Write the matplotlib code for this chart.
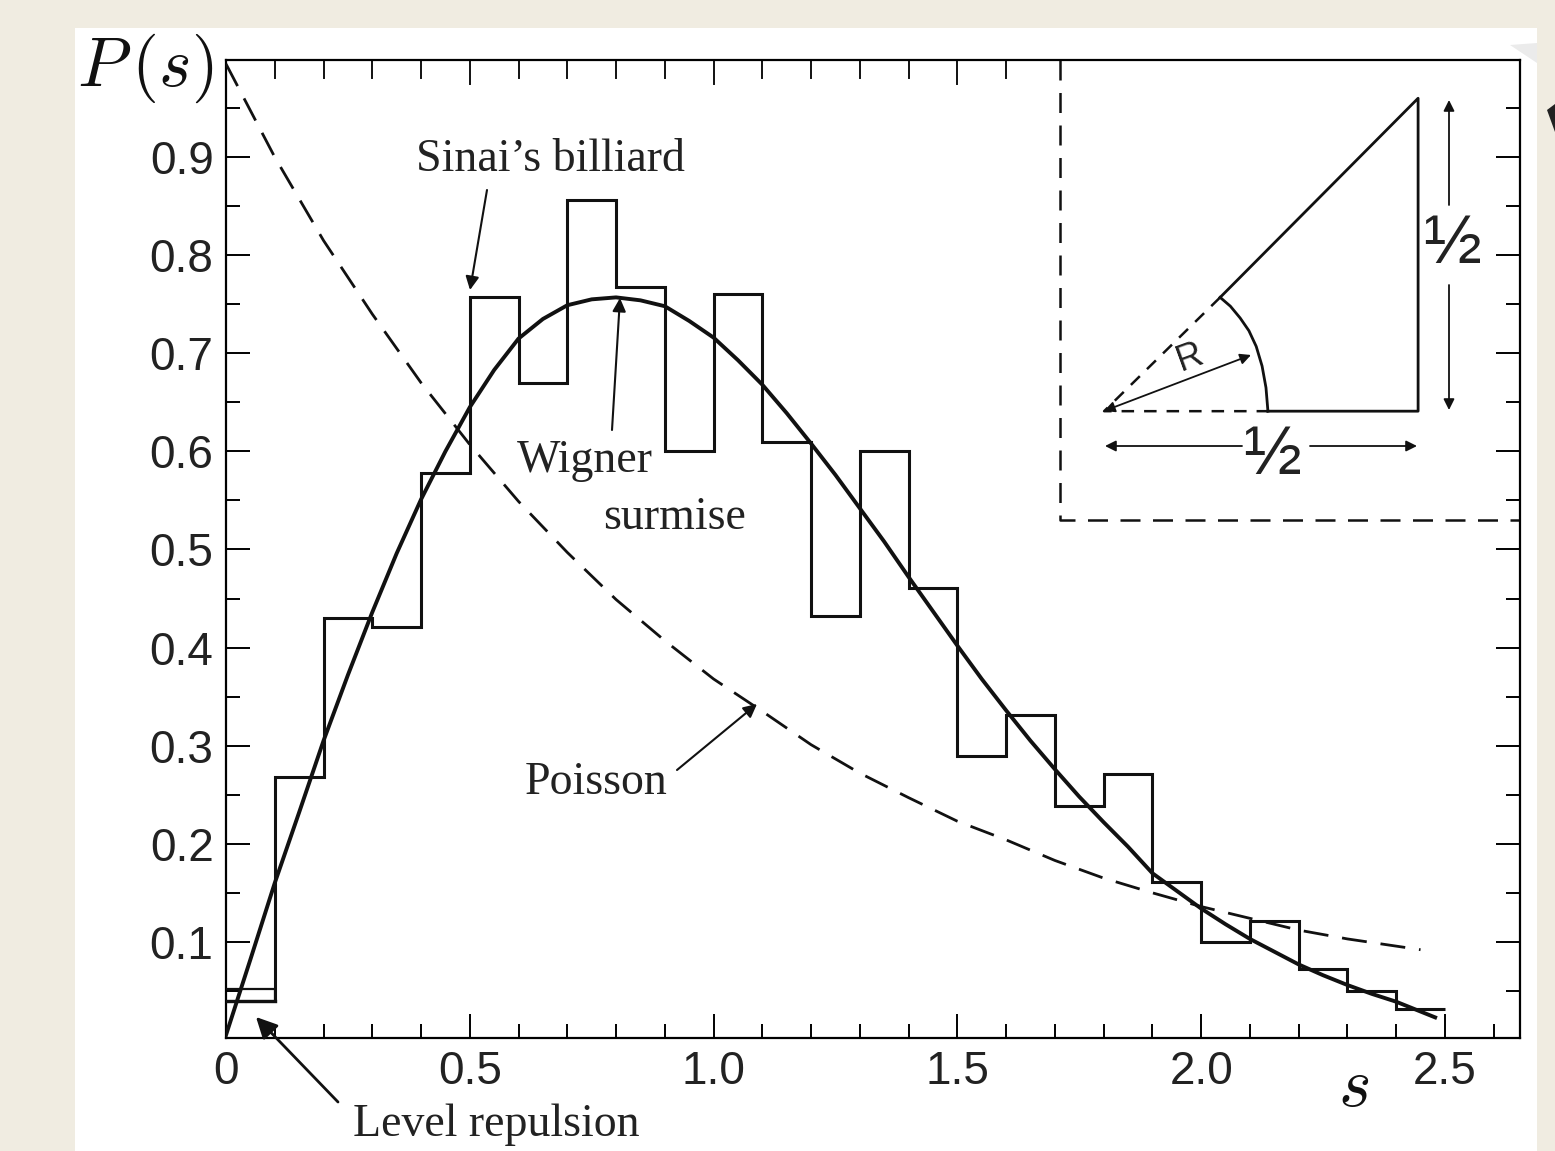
import numpy as np
import matplotlib
matplotlib.use('Agg')
import matplotlib.pyplot as plt
from matplotlib.patches import Rectangle, Polygon

W, H = 1555, 1151

# гистограмма (бильярд Синая)
hist_edges = [0.0, 0.1, 0.2, 0.3, 0.4, 0.5, 0.6, 0.7, 0.8, 0.9, 1.0, 1.1, 1.2,
              1.3, 1.4, 1.5, 1.6, 1.7, 1.8, 1.9, 2.0, 2.1, 2.2, 2.3, 2.4, 2.5]
hist_vals = [0.040, 0.268, 0.430, 0.421, 0.578, 0.757, 0.670, 0.856, 0.768, 0.600,
             0.760, 0.610, 0.432, 0.600, 0.461, 0.289, 0.331, 0.239, 0.271, 0.161,
             0.100, 0.121, 0.072, 0.050, 0.032]

# кривые, значения
curve_s = [0.0, 0.05, 0.1, 0.15, 0.2, 0.25, 0.3, 0.35, 0.4, 0.45, 0.5, 0.55, 0.6, 0.65,
           0.7, 0.75, 0.8, 0.85, 0.9, 0.95, 1.0, 1.05, 1.1, 1.15, 1.2, 1.25, 1.3, 1.35,
           1.4, 1.45, 1.5, 1.55, 1.6, 1.65, 1.7, 1.75, 1.8, 1.85, 1.9, 1.95, 2.0, 2.05,
           2.1, 2.15, 2.2, 2.25, 2.3, 2.35, 2.4, 2.48]
wigner = [0.005, 0.082, 0.160, 0.232, 0.305, 0.372, 0.436, 0.496, 0.551, 0.600, 0.645,
          0.683, 0.715, 0.735, 0.749, 0.755, 0.757, 0.754, 0.748, 0.733, 0.716, 0.693,
          0.668, 0.639, 0.608, 0.576, 0.542, 0.508, 0.472, 0.437, 0.402, 0.368, 0.336,
          0.305, 0.276, 0.248, 0.222, 0.197, 0.170, 0.152, 0.134, 0.118, 0.103, 0.090,
          0.077, 0.066, 0.056, 0.047, 0.039, 0.023]
poisson_s = [0.0, 0.1, 0.2, 0.3, 0.4, 0.5, 0.6, 0.7, 0.8, 0.9, 1.0, 1.1, 1.2, 1.3,
             1.4, 1.5, 1.6, 1.7, 1.8, 1.9, 2.0, 2.1, 2.2, 2.3, 2.45]
poisson = [0.995, 0.900, 0.815, 0.740, 0.670, 0.607, 0.549, 0.497, 0.449, 0.407,
           0.368, 0.335, 0.301, 0.272, 0.247, 0.223, 0.204, 0.183, 0.165, 0.150,
           0.136, 0.124, 0.112, 0.103, 0.092]

y_labels = ['0.1', '0.2', '0.3', '0.4', '0.5', '0.6', '0.7', '0.8', '0.9']
y_major = [0.1, 0.2, 0.3, 0.4, 0.5, 0.6, 0.7, 0.8, 0.9]
y_minor = [0.05, 0.15, 0.25, 0.35, 0.45, 0.55, 0.65, 0.75, 0.85, 0.95]
x_labels = ['0', '0.5', '1.0', '1.5', '2.0', '2.5']
x_major = [0.0, 0.5, 1.0, 1.5, 2.0, 2.5]
x_minor = [0.1, 0.2, 0.3, 0.4, 0.6, 0.7, 0.8, 0.9, 1.1, 1.2, 1.3, 1.4, 1.6, 1.7,
           1.8, 1.9, 2.1, 2.2, 2.3, 2.4, 2.6]
top_minor = [0.1, 0.2, 0.3, 0.4, 0.6, 0.7, 0.8, 0.9, 1.1, 1.2, 1.3, 1.4, 1.6]
top_major = [0.5, 1.0, 1.5]

# схема бильярда во врезке
frame_x = [1.710, 1.710, 2.654]
frame_y = [0.999, 0.530, 0.530]
wall_x = [2.039, 2.445, 2.445, 2.137]
wall_y = [0.757, 0.960, 0.641, 0.641]
arc_x = [2.137, 2.133, 2.125, 2.113, 2.098, 2.080, 2.060, 2.039]
arc_y = [0.641, 0.665, 0.687, 0.707, 0.723, 0.736, 0.748, 0.757]
dash_x = [2.039, 1.801, 2.137]
dash_y = [0.757, 0.641, 0.641]


def px(x, y):
    return x / W, 1 - y / H


plt.rcParams['font.family'] = ['Liberation Sans', 'DejaVu Sans']
plt.rcParams['mathtext.fontset'] = 'cm'

fig = plt.figure(figsize=(W / 100, H / 100), dpi=100, facecolor='#f0ece1')
fig.patches.append(Rectangle((75 / W, 0), (1537 - 75) / W, 1 - 28 / H, transform=fig.transFigure,
                             facecolor='white', edgecolor='none', zorder=-2))
fig.patches.append(Polygon([px(1510, 45), px(1537, 43), px(1537, 63)], transform=fig.transFigure,
                           facecolor='#ebebeb', edgecolor='none', zorder=-1))
fig.patches.append(Polygon([px(1547, 110), px(1555, 104), px(1555, 132)], transform=fig.transFigure,
                           facecolor='#222222', edgecolor='none', zorder=-1))

ax = fig.add_axes([226 / W, 1 - 1038 / H, (1520 - 226) / W, (1038 - 60) / H])
ax.patch.set_alpha(0)
ax.set_xlim(0, 2.654)
ax.set_ylim(0.002, 0.999)
for sp in ax.spines.values():
    sp.set_linewidth(1.6)

ink = '#111111'
ax.stairs(hist_vals, hist_edges, color=ink, linewidth=2.2, baseline=None, zorder=3)
ax.plot([0, 0.1], [hist_vals[0], hist_vals[0]], color=ink, linewidth=2.4, zorder=3)
ax.plot([0, 0.1, 0.1], [0.052, 0.052, 0.04], color=ink, linewidth=1.6, zorder=3)
ax.plot(curve_s, wigner, color=ink, linewidth=2.8, zorder=4)
ax.plot(poisson_s, poisson, color=ink, linewidth=2.0, dashes=(9, 5), zorder=3)

# деления
ax.set_xticks(x_major)
ax.set_xticklabels(x_labels, fontsize=33, color='#222222')
ax.set_xticks(x_minor, minor=True)
ax.set_yticks(y_major)
ax.set_yticklabels(y_labels, fontsize=33, color='#222222')
ax.set_yticks(y_minor, minor=True)
ax.tick_params(which='major', direction='in', length=17, width=1.4, right=True, pad=9)
ax.tick_params(which='minor', direction='in', length=10, width=1.4, right=True)
for t in top_minor:
    ax.plot([t, t], [0.999, 0.981], color=ink, linewidth=1.4, clip_on=False)
for t in top_major:
    ax.plot([t, t], [0.999, 0.975], color=ink, linewidth=1.4, clip_on=False)

# врезка
ax.plot(frame_x, frame_y, color=ink, linewidth=1.8, dashes=(8, 5))
ax.plot(wall_x, wall_y, color=ink, linewidth=2.0)
ax.plot(arc_x, arc_y, color=ink, linewidth=2.0)
ax.plot(dash_x, dash_y, color=ink, linewidth=1.8, dashes=(5, 4))

head = dict(arrowstyle='-|>', color=ink, linewidth=1.3, mutation_scale=16, shrinkA=0, shrinkB=0)
both = dict(arrowstyle='<|-|>', color=ink, linewidth=1.3, mutation_scale=16, shrinkA=0, shrinkB=0)
ax.annotate('', xy=px(1104, 411), xytext=px(1251, 355), xycoords='figure fraction', arrowprops=both)
ax.annotate('', xy=px(1105, 446), xytext=px(1242, 446), xycoords='figure fraction', arrowprops=head)
ax.annotate('', xy=px(1417, 446), xytext=px(1310, 446), xycoords='figure fraction', arrowprops=head)
ax.annotate('', xy=px(1449, 100), xytext=px(1449, 205), xycoords='figure fraction', arrowprops=head)
ax.annotate('', xy=px(1449, 410), xytext=px(1449, 285), xycoords='figure fraction', arrowprops=head)
fig.text(*px(1272, 456), '½', fontsize=50, ha='center', va='center', color='#222222')
fig.text(*px(1452, 245), '½', fontsize=50, ha='center', va='center', color='#222222')
fig.text(*px(1190, 358), 'R', fontsize=26, ha='center', va='center', rotation=20, color='#222222')

# подписи и стрелки
serif = ['Liberation Serif', 'DejaVu Serif']
labels = [('Sinai’s billiard', 550, 160, 33), ('Wigner', 585, 461, 33), ('surmise', 675, 518, 33),
          ('Poisson', 596, 783, 33), ('Level repulsion', 496, 1125, 33)]
for txt, x, y, size in labels:
    fig.text(*px(x, y), txt, fontsize=size, family=serif, ha='center', va='center', color='#222222')

arrow = dict(arrowstyle='-|>', color=ink, linewidth=1.5, mutation_scale=20, shrinkA=0, shrinkB=0)
ax.annotate('', xy=px(470, 290), xytext=px(487, 190), xycoords='figure fraction', arrowprops=arrow)
ax.annotate('', xy=px(620, 298), xytext=px(612, 430), xycoords='figure fraction', arrowprops=arrow)
ax.annotate('', xy=px(757, 704), xytext=px(677, 770), xycoords='figure fraction', arrowprops=arrow)
big = dict(arrowstyle='-|>', color=ink, linewidth=2.0, mutation_scale=32, shrinkA=0, shrinkB=0)
ax.annotate('', xy=px(256, 1017), xytext=px(338, 1102), xycoords='figure fraction', arrowprops=big)

fig.text(*px(145, 68), r'$P\,(s)$', fontsize=50, ha='center', va='center', color='#111111')
fig.text(*px(1354, 1088), '$s$', fontsize=50, ha='center', va='center', color='#111111')

fig.savefig('out.png', dpi=100, facecolor=fig.get_facecolor())
